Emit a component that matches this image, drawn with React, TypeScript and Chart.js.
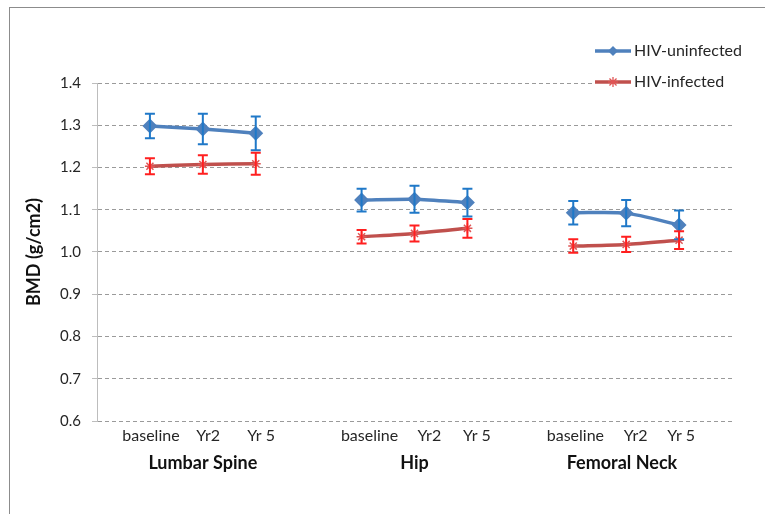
import React, { useEffect, useRef } from 'react';
import { Chart, registerables } from 'chart.js';

Chart.register(...registerables);
Chart.defaults.font.family = 'Lato, "Open Sans", sans-serif';

// ---- data ----
const sites = ['Lumbar Spine', 'Hip', 'Femoral Neck'];
const timepoints = ['baseline', 'Yr2', 'Yr 5'];
const seriesNames = ['HIV-uninfected', 'HIV-infected'];
const uninfectedMean = [1.298, 1.291, 1.281, 1.123, 1.125, 1.117, 1.093, 1.092, 1.064];
const uninfectedErr = [0.029, 0.036, 0.040, 0.027, 0.032, 0.033, 0.028, 0.031, 0.034];
const infectedMean = [1.203, 1.207, 1.209, 1.036, 1.044, 1.056, 1.014, 1.018, 1.028];
const infectedErr = [0.019, 0.022, 0.026, 0.016, 0.019, 0.022, 0.016, 0.018, 0.021];
const yMin = 0.6;
const yMax = 1.4;
const yStep = 0.1;

// label placement on the category index scale (texts are slightly nudged in the original)
const tickLabelPos = [1.02, 2.1, 3.1, 5.15, 6.28, 7.18, 9.04, 10.18, 11.04];
const groupLabelPos = [2, 6, 9.92];

// categories with an empty slot before, between and after the site groups
const categories: string[] = [''];
sites.forEach(() => {
  timepoints.forEach((t) => categories.push(t));
  categories.push('');
});
const pad = (vals: number[]) => {
  const out: (number | null)[] = [null];
  sites.forEach((_, s) => {
    timepoints.forEach((_, t) => out.push(vals[s * timepoints.length + t]));
    out.push(null);
  });
  return out;
};
const tickLabels: string[] = [];
sites.forEach(() => timepoints.forEach((t) => tickLabels.push(t)));

const BLUE = '#4F81BD';
const RED = '#C0504D';
const BLUE_ERR = '#1F78C8';
const RED_ERR = '#FF1F1F';

const errorBarPlugin = {
  id: 'errorBars',
  afterDatasetsDraw(chart: any) {
    const { ctx } = chart;
    const yScale = chart.scales.y;
    chart.data.datasets.forEach((ds: any, di: number) => {
      const meta = chart.getDatasetMeta(di);
      ctx.save();
      ctx.strokeStyle = ds.errorColor;
      ctx.lineWidth = 2;
      ds.data.forEach((v: number | null, i: number) => {
        const e = ds.errors[i];
        if (v == null || e == null) return;
        const pt = meta.data[i];
        const x = pt.x;
        const yt = yScale.getPixelForValue(v + e);
        const yb = yScale.getPixelForValue(v - e);
        const w = 5;
        ctx.beginPath();
        ctx.moveTo(x, yt);
        ctx.lineTo(x, yb);
        ctx.moveTo(x - w, yt);
        ctx.lineTo(x + w, yt);
        ctx.moveTo(x - w, yb);
        ctx.lineTo(x + w, yb);
        ctx.stroke();
      });
      ctx.restore();
    });
  },
};

const framePlugin = {
  id: 'frame',
  beforeDraw(chart: any) {
    const { ctx } = chart;
    ctx.save();
    ctx.strokeStyle = '#8c8c8c';
    ctx.lineWidth = 1;
    ctx.strokeRect(9.5, 7.5, chart.width + 50, chart.height + 50);
    ctx.restore();
  },
};

const legendPlugin = {
  id: 'customLegend',
  afterDraw(chart: any) {
    const { ctx, chartArea } = chart;
    const x0 = chartArea.right - 137;
    ctx.save();
    ctx.fillStyle = '#ffffff';
    ctx.fillRect(x0 - 2, 36, 150, 60);
    chart.data.datasets.forEach((ds: any, k: number) => {
      const y = 51 + k * 31;
      ctx.strokeStyle = ds.borderColor;
      ctx.lineWidth = 3.5;
      ctx.beginPath();
      ctx.moveTo(x0, y);
      ctx.lineTo(x0 + 36, y);
      ctx.stroke();
      const cx = x0 + 18;
      const r = 5;
      if (ds.pointStyle === 'rectRot') {
        ctx.fillStyle = ds.pointBackgroundColor;
        ctx.beginPath();
        ctx.moveTo(cx, y - r);
        ctx.lineTo(cx + r, y);
        ctx.lineTo(cx, y + r);
        ctx.lineTo(cx - r, y);
        ctx.closePath();
        ctx.fill();
      } else {
        ctx.strokeStyle = ds.pointBorderColor;
        ctx.lineWidth = 1.3;
        ctx.beginPath();
        for (let a = 0; a < 4; a++) {
          const ang = (a * Math.PI) / 4;
          ctx.moveTo(cx - r * Math.cos(ang), y - r * Math.sin(ang));
          ctx.lineTo(cx + r * Math.cos(ang), y + r * Math.sin(ang));
        }
        ctx.stroke();
      }
      ctx.fillStyle = '#262626';
      ctx.font = '16px Lato, "Open Sans", sans-serif';
      ctx.textBaseline = 'middle';
      ctx.textAlign = 'left';
      ctx.fillText(seriesNames[k], x0 + 39, y);
    });
    ctx.restore();
  },
};

export default function App() {
  const canvasRef = useRef<HTMLCanvasElement | null>(null);

  useEffect(() => {
    document.body.style.margin = '0';
    const canvas = canvasRef.current;
    if (!canvas) return;
    const labelAxisMax = categories.length - 1;
    const chart = new Chart(canvas, {
      type: 'line',
      data: {
        labels: categories,
        datasets: [
          {
            label: seriesNames[0],
            data: pad(uninfectedMean),
            errors: pad(uninfectedErr),
            errorColor: BLUE_ERR,
            borderColor: BLUE,
            backgroundColor: BLUE,
            borderWidth: 3.5,
            pointStyle: 'rectRot',
            pointRadius: 5,
            pointBackgroundColor: BLUE,
            pointBorderColor: BLUE,
            tension: 0.25,
            spanGaps: false,
            fill: false,
            xAxisID: 'x',
            yAxisID: 'y',
          } as any,
          {
            label: seriesNames[1],
            data: pad(infectedMean),
            errors: pad(infectedErr),
            errorColor: RED_ERR,
            borderColor: RED,
            backgroundColor: RED,
            borderWidth: 3.5,
            pointStyle: 'star',
            pointRadius: 5,
            pointBorderWidth: 1.5,
            pointBackgroundColor: '#E05555',
            pointBorderColor: '#E05555',
            tension: 0.25,
            spanGaps: false,
            fill: false,
            xAxisID: 'x',
            yAxisID: 'y',
          } as any,
        ],
      },
      options: {
        responsive: false,
        animation: false,
        layout: { padding: { top: 83, right: 33, left: 0, bottom: 0 } },
        plugins: {
          legend: { display: false },
          tooltip: { enabled: false },
        },
        scales: {
          x: {
            type: 'category',
            display: false,
            offset: false,
          },
          xl: {
            type: 'linear',
            position: 'bottom',
            min: 0,
            max: labelAxisMax,
            afterBuildTicks: (s: any) => {
              s.ticks = tickLabelPos.map((v) => ({ value: v }));
            },
            afterFit: (s: any) => {
              s.height = 28;
            },
            ticks: {
              autoSkip: false,
              maxRotation: 0,
              minRotation: 0,
              padding: 5,
              color: '#262626',
              font: { size: 16 },
              callback: (_v: any, i: number) => tickLabels[i],
            },
            grid: { display: false, drawTicks: false },
            border: { display: false },
          },
          xg: {
            type: 'linear',
            position: 'bottom',
            min: 0,
            max: labelAxisMax,
            afterBuildTicks: (s: any) => {
              s.ticks = groupLabelPos.map((v) => ({ value: v }));
            },
            afterFit: (s: any) => {
              s.height = 65;
            },
            ticks: {
              autoSkip: false,
              maxRotation: 0,
              minRotation: 0,
              padding: 3,
              color: '#111',
              font: { size: 18, weight: 'bold' },
              callback: (_v: any, i: number) => sites[i],
            },
            grid: { display: false, drawTicks: false },
            border: { display: false },
          },
          y: {
            type: 'linear',
            min: yMin,
            max: yMax,
            afterFit: (s: any) => {
              s.width = 97;
            },
            ticks: {
              stepSize: yStep,
              padding: 11,
              color: '#262626',
              font: { size: 15 },
              callback: (v: any) => Number(v).toFixed(1),
            },
            grid: {
              color: '#9a9a9a',
              lineWidth: 1,
              drawTicks: true,
              tickLength: 5,
              tickColor: '#bdbdbd',
              tickBorderDash: [],
            },
            border: { display: true, color: '#bdbdbd', width: 1, dash: [4, 3] },
            title: {
              display: true,
              text: 'BMD (g/cm2)',
              color: '#111',
              font: { size: 18, weight: 'bold' },
              padding: { top: 23, bottom: 0 },
            },
          },
        },
      } as any,
      plugins: [framePlugin, errorBarPlugin, legendPlugin],
    });
    return () => chart.destroy();
  }, []);

  return (
    <div style={{ width: 765, height: 514 }}>
      <canvas ref={canvasRef} width={765} height={514} style={{ display: 'block' }} />
    </div>
  );
}
